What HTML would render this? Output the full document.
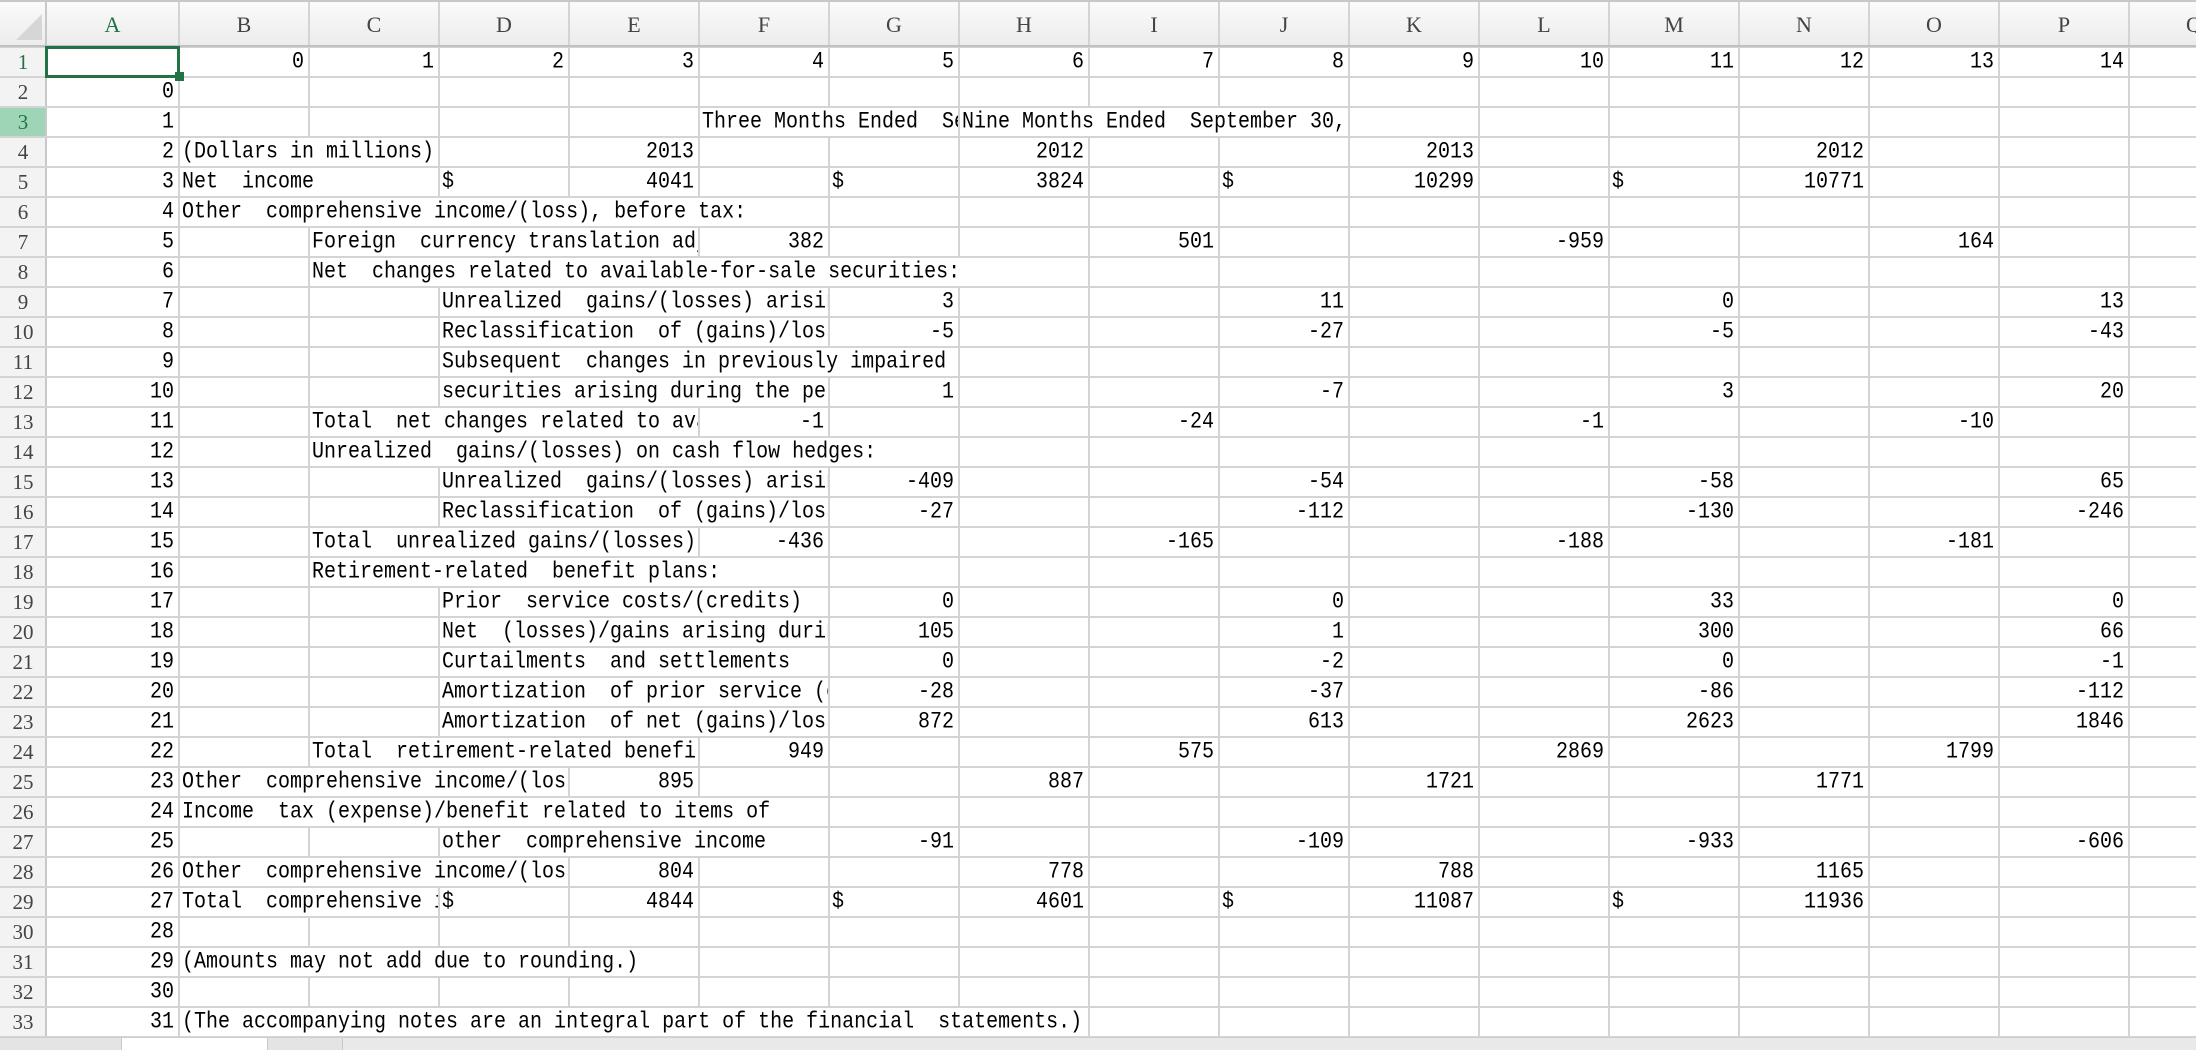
<!DOCTYPE html>
<html><head><meta charset="utf-8">
<style>
html,body{margin:0;padding:0;background:#fff;}
#sheet{position:relative;width:2196px;height:1050px;overflow:hidden;background:#fff;font-family:"Liberation Mono","Noto Sans CJK SC",monospace;}
.cell{position:absolute;height:30px;line-height:30px;font-size:20px;color:#000;white-space:pre;overflow:hidden;box-sizing:border-box;}
.cell span{display:inline-block;transform:scaleY(1.15);background:#fff;}
.vl{position:absolute;width:2px;background:#d4d4d4;}
.hl{position:absolute;left:0;height:2px;background:#d4d4d4;}
.colh{position:absolute;top:0;height:46px;line-height:50px;text-align:center;font-size:22px;color:#444;background:linear-gradient(#fbfbfb,#ececec);font-family:"Liberation Serif",serif;}
.rowh{position:absolute;left:0;width:46px;height:30px;line-height:30px;text-align:center;font-size:21px;color:#444;background:#f3f3f3;font-family:"Liberation Serif",serif;}
</style></head>
<body>
<div id="sheet"></div>
<script>
const colLetters=["A","B","C","D","E","F","G","H","I","J","K","L","M","N","O","P","Q"];
const rowData=[
 [[1,"0"],[2,"1"],[3,"2"],[4,"3"],[5,"4"],[6,"5"],[7,"6"],[8,"7"],[9,"8"],[10,"9"],[11,"10"],[12,"11"],[13,"12"],[14,"13"],[15,"14"]],
 [[0,"0"]],
 [[0,"1"],[5,"Three Months Ended  September 30,","l"],[7,"Nine Months Ended  September 30,","l"]],
 [[0,"2"],[1,"(Dollars in millions)","l"],[4,"2013"],[7,"2012"],[10,"2013"],[13,"2012"]],
 [[0,"3"],[1,"Net  income","l"],[3,"$","l"],[4,"4041"],[6,"$","l"],[7,"3824"],[9,"$","l"],[10,"10299"],[12,"$","l"],[13,"10771"]],
 [[0,"4"],[1,"Other  comprehensive income/(loss), before tax:","l"]],
 [[0,"5"],[2,"Foreign  currency translation adjustments","l"],[5,"382"],[8,"501"],[11,"-959"],[14,"164"]],
 [[0,"6"],[2,"Net  changes related to available-for-sale securities:","l"]],
 [[0,"7"],[3,"Unrealized  gains/(losses) arising during the period","l"],[6,"3"],[9,"11"],[12,"0"],[15,"13"]],
 [[0,"8"],[3,"Reclassification  of (gains)/losses to net income","l"],[6,"-5"],[9,"-27"],[12,"-5"],[15,"-43"]],
 [[0,"9"],[3,"Subsequent  changes in previously impaired","l"]],
 [[0,"10"],[3,"securities arising during the period","l"],[6,"1"],[9,"-7"],[12,"3"],[15,"20"]],
 [[0,"11"],[2,"Total  net changes related to available-for-sale securities","l"],[5,"-1"],[8,"-24"],[11,"-1"],[14,"-10"]],
 [[0,"12"],[2,"Unrealized  gains/(losses) on cash flow hedges:","l"]],
 [[0,"13"],[3,"Unrealized  gains/(losses) arising during the period","l"],[6,"-409"],[9,"-54"],[12,"-58"],[15,"65"]],
 [[0,"14"],[3,"Reclassification  of (gains)/losses to net income","l"],[6,"-27"],[9,"-112"],[12,"-130"],[15,"-246"]],
 [[0,"15"],[2,"Total  unrealized gains/(losses) on cash flow hedges","l"],[5,"-436"],[8,"-165"],[11,"-188"],[14,"-181"]],
 [[0,"16"],[2,"Retirement-related  benefit plans:","l"]],
 [[0,"17"],[3,"Prior  service costs/(credits)","l"],[6,"0"],[9,"0"],[12,"33"],[15,"0"]],
 [[0,"18"],[3,"Net  (losses)/gains arising during the period","l"],[6,"105"],[9,"1"],[12,"300"],[15,"66"]],
 [[0,"19"],[3,"Curtailments  and settlements","l"],[6,"0"],[9,"-2"],[12,"0"],[15,"-1"]],
 [[0,"20"],[3,"Amortization  of prior service (credits)/costs","l"],[6,"-28"],[9,"-37"],[12,"-86"],[15,"-112"]],
 [[0,"21"],[3,"Amortization  of net (gains)/losses","l"],[6,"872"],[9,"613"],[12,"2623"],[15,"1846"]],
 [[0,"22"],[2,"Total  retirement-related benefit plans","l"],[5,"949"],[8,"575"],[11,"2869"],[14,"1799"]],
 [[0,"23"],[1,"Other  comprehensive income/(loss), before tax","l"],[4,"895"],[7,"887"],[10,"1721"],[13,"1771"]],
 [[0,"24"],[1,"Income  tax (expense)/benefit related to items of","l"]],
 [[0,"25"],[3,"other  comprehensive income","l"],[6,"-91"],[9,"-109"],[12,"-933"],[15,"-606"]],
 [[0,"26"],[1,"Other  comprehensive income/(loss)","l"],[4,"804"],[7,"778"],[10,"788"],[13,"1165"]],
 [[0,"27"],[1,"Total  comprehensive income","l"],[3,"$","l"],[4,"4844"],[6,"$","l"],[7,"4601"],[9,"$","l"],[10,"11087"],[12,"$","l"],[13,"11936"]],
 [[0,"28"]],
 [[0,"29"],[1,"(Amounts may not add due to rounding.)","l"]],
 [[0,"30"]],
 [[0,"31"],[1,"(The accompanying notes are an integral part of the financial  statements.)","l"]]
];
const sheet=document.getElementById('sheet');
const RH=46, TOP=47, ROWH=30, AW=133, CW=130;
function colX(c){return c===0?RH:RH+AW+(c-1)*CW;}
function colW(c){return c===0?AW:CW;}
function mk(cls,name,css,txt){
 const d=document.createElement('div');d.className=cls;
 
 
 Object.assign(d.style,css);if(txt!==undefined)d.textContent=txt;sheet.appendChild(d);return d;}
const corner=mk('colh','corner-select-all',{left:'0px',width:RH+'px'});

corner.innerHTML='<div style="position:absolute;right:4px;bottom:6px;width:0;height:0;border-left:26px solid transparent;border-bottom:26px solid #d6d6d6"></div>';
colLetters.forEach((L,i)=>{const h=mk('colh','column-header-'+L.toLowerCase(),{left:colX(i)+'px',width:colW(i)+'px',color:i===0?'#217346':'#444'},L);
 });
for(let r=0;r<33;r++){const h=mk('rowh','row-header-'+(r+1),{top:(TOP+r*ROWH)+'px',background:r===2?'#9fd5b7':'#f3f3f3',color:(r===0||r===2)?'#217346':'#444'},String(r+1));
 }
for(let c=0;c<=17;c++){mk('vl','header-vline',{left:(colX(c)-1)+'px',top:'0px',height:TOP+'px'});}
const covered=rowData.map(cells=>{
 const occ=cells.map(c=>c[0]);const set=new Set();
 cells.forEach(([c,t,a])=>{ if(a!=='l')return;
  const end=colX(c)+3+t.length*12;
  let n=c+1;while(n<17&&!occ.includes(n)){ if(colX(n)<end)set.add(n); n++; }
 });
 return set;});
for(let r=0;r<35;r++){
 const top=TOP+r*ROWH, h=(r<33)?ROWH:1040-top; if(h<=0)break;
 for(let c=0;c<=17;c++){
  if(r<33&&covered[r].has(c))continue;
  mk('vl','grid-vline',{left:(colX(c)-1)+'px',top:top+'px',height:h+'px'});
 }
}
mk('vl','header-border',{left:(RH-1)+'px',top:'0px',height:'1040px',background:'#c8c8c8'});
for(let r=0;r<=33;r++){mk('hl','grid-hline',{top:(TOP+r*ROWH-1)+'px',width:'2196px'});}
mk('hl','header-bottom',{top:(TOP-2)+'px',width:'2196px',background:'#c0c0c0'});
mk('hl','top-border',{top:'0px',width:'2196px',background:'#c8c8c8'});
rowData.forEach((cells,r)=>{
 const occupied=cells.map(c=>c[0]);
 cells.forEach(([c,t,a])=>{
  let w=colW(c);
  if(a==='l'){let n=c+1;while(n<17&&!occupied.includes(n)){w+=colW(n);n++;}
   if(n>=17)w=2196-colX(c);}
  const css={left:(colX(c)+1)+'px',top:(TOP+r*ROWH+1)+'px',width:(w-2)+'px',height:'28px',lineHeight:'29px',
   textAlign:a==='l'?'left':'right',paddingLeft:a==='l'?'2px':'0',paddingRight:a==='l'?'0':'4px'};
  const el=mk('cell','cell-'+colLetters[c].toLowerCase()+(r+1),css);
  
  const s=document.createElement('span');s.textContent=t;el.appendChild(s);
 });
});
mk('cell','selected-cell-a1',{left:(colX(0)-1)+'px',top:(TOP-1)+'px',width:(AW+2)+'px',height:'32px',border:'3px solid #217346'});
mk('cell','fill-handle',{left:(colX(0)+AW-4)+'px',top:(TOP+ROWH-5)+'px',width:'9px',height:'9px',background:'#217346'});
mk('cell','sheet-tab-bar',{left:'0px',top:'1037px',width:'2196px',height:'13px',background:'#e9e9e9',borderTop:'1px solid #cfcfcf'});
mk('cell','tab-nav',{left:'0px',top:'1038px',width:'122px',height:'12px',background:'#e4e4e4',borderRight:'1px solid #c8c8c8'});
const tab=mk('cell','sheet-tab-active',{left:'122px',top:'1038px',width:'145px',height:'12px',background:'#fff'});
const add=mk('cell','add-sheet-button',{left:'267px',top:'1038px',width:'76px',height:'12px',background:'#e4e4e4',borderLeft:'1px solid #c8c8c8',borderRight:'1px solid #c8c8c8'});
</script>
</body></html>
